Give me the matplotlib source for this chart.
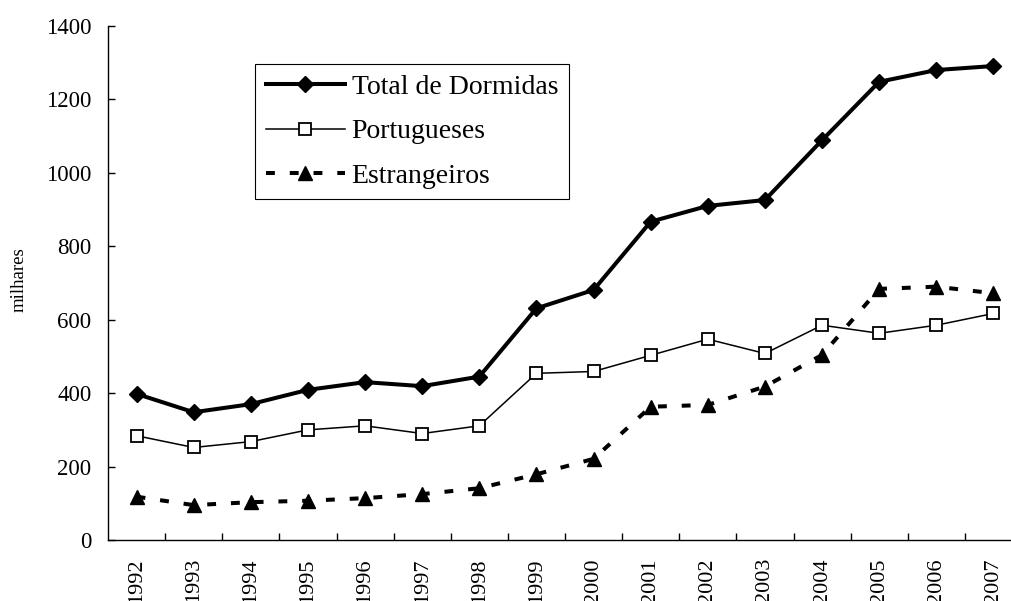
import matplotlib
matplotlib.use("Agg")
import matplotlib.pyplot as plt

plt.rcParams['font.family'] = ['Liberation Serif', 'DejaVu Serif']

anos = [str(a) for a in range(1992, 2008)]
total = [398, 348, 370, 409, 430, 419, 445, 631, 681, 867, 910, 926, 1089, 1248, 1280, 1291]
portugueses = [284, 252, 268, 300, 311, 290, 311, 454, 459, 503, 547, 508, 585, 563, 585, 617]
estrangeiros = [118, 95, 103, 107, 114, 125, 141, 179, 221, 363, 368, 418, 504, 684, 690, 672]

fig = plt.figure(figsize=(10.11, 6.01), dpi=100)
ax = fig.add_axes([108/1011, 1 - 540/601, (1022 - 108)/1011, (540 - 26)/601])

x = range(len(anos))
ax.plot(x, total, color='black', lw=2.9, marker='D', ms=8.5,
        label='Total de Dormidas')
ax.plot(x, portugueses, color='black', lw=1.1, marker='s', ms=8,
        mfc='white', mec='black', mew=1.3, label='Portugueses')
ax.plot(x, estrangeiros, color='black', lw=2.9, ls=(0, (2.2, 3.7)),
        marker='^', ms=10, label='Estrangeiros')

ax.set_xlim(-0.5, len(anos) - 0.5)
ax.set_ylim(0, 1400)
ax.set_yticks(range(0, 1401, 200))
ax.set_xticks(list(x))
ax.set_xticklabels(anos, rotation=90)
ax.set_xticks([i + 0.5 for i in range(len(anos) - 1)], minor=True)
ax.tick_params(axis='x', which='major', length=0, pad=13, labelsize=16)
ax.tick_params(axis='x', which='minor', direction='in', length=5, width=1)
ax.tick_params(axis='y', direction='in', length=5, width=1, labelsize=16.5, pad=12)

for s in ['top', 'right']:
    ax.spines[s].set_visible(False)
for s in ['left', 'bottom']:
    ax.spines[s].set_linewidth(1)

ax.set_ylabel('milhares', fontsize=13.5)
ax.yaxis.set_label_coords(-0.088, 0.506)

leg = ax.legend(loc='upper left', bbox_to_anchor=(255/1011, 1 - 64/601),
                bbox_transform=fig.transFigure, fontsize=20, numpoints=1,
                handlelength=2.85, handletextpad=0.25, labelspacing=0.68,
                borderpad=0.38, borderaxespad=0, fancybox=False,
                framealpha=1, edgecolor='black')
leg.get_frame().set_linewidth(0.8)

fig.savefig('out.png', dpi=100)
